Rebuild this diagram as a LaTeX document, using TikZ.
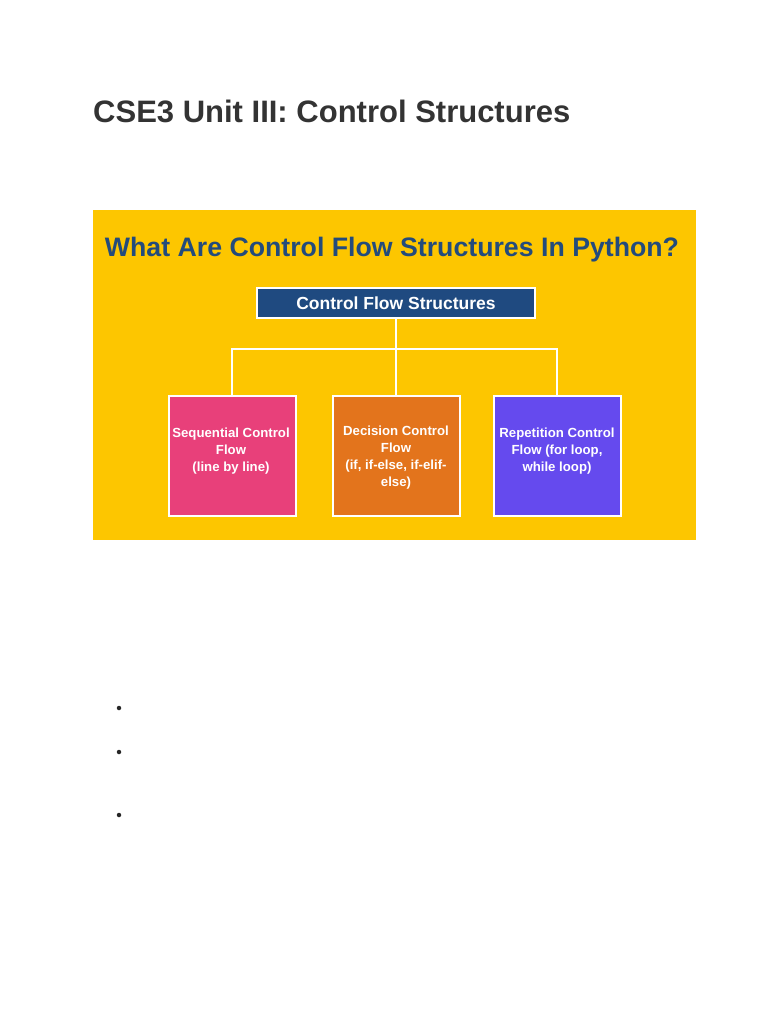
\documentclass[tikz,border=0pt]{standalone}
\usepackage{fontspec}
\setmainfont{Liberation Sans}
\definecolor{titlegray}{HTML}{333333}
\definecolor{bgyellow}{HTML}{FDC600}
\definecolor{headblue}{HTML}{234B7C}
\definecolor{rootblue}{HTML}{1F4A80}
\definecolor{boxpink}{HTML}{E8407A}
\definecolor{boxorange}{HTML}{E3741C}
\definecolor{boxpurple}{HTML}{654AEE}
\begin{document}
\begin{tikzpicture}[x=1pt,y=-1pt,
  childbox/.style={draw=white,line width=2pt,minimum width=127pt,minimum height=120pt,outer sep=0pt,inner sep=0pt},
  boxtext/.style={text=white,font=\fontsize{13.2}{17}\selectfont\bfseries,align=center,inner sep=0pt},
  link/.style={draw=white,line width=2pt},
  bulletdot/.style={circle,fill=black!85,inner sep=0pt,minimum size=4.5pt}]
\useasboundingbox (0,0) rectangle (768,1024);
\fill[white] (0,0) rectangle (768,1024);
\node[anchor=base west,inner sep=0pt,text=titlegray,font=\fontsize{31}{33}\selectfont\bfseries] (title) at (93,123) {CSE3 Unit III: Control Structures};
\fill[bgyellow] (93,210) rectangle (696,540);
\node[anchor=base,inner sep=0pt,text=headblue,font=\fontsize{26.7}{28}\selectfont\bfseries] (head) at (392,256) {What Are Control Flow Structures In Python?};
\node[draw=white,line width=2pt,fill=rootblue,minimum width=278pt,minimum height=30pt,outer sep=0pt,inner sep=0pt,text=white,font=\fontsize{17.5}{19}\selectfont\bfseries] (root) at (396,303) {Control Flow Structures};
\node[childbox,fill=boxpink] (seq) at (232,456) {};
\node[childbox,fill=boxorange] (dec) at (396,456) {};
\node[childbox,fill=boxpurple] (rep) at (557,456) {};
\node[boxtext] (seqt) at (231,451) {Sequential Control\\Flow\\(line by line)};
\node[boxtext] (dect) at (396,458) {Decision Control\\Flow\\(if, if-else, if-elif-\\else)};
\node[boxtext] (rept) at (557,451) {Repetition Control\\Flow (for loop,\\while loop)};
\coordinate (jmid) at (396,349);
\draw[link] (root.south) -- (dec.north);
\draw[link] (seq.north) -- (seq.north |- jmid) -- (rep.north |- jmid) -- (rep.north);
\node[bulletdot] (b1) at (119,708) {};
\node[bulletdot] (b2) at (119,752) {};
\node[bulletdot] (b3) at (119,815) {};
\end{tikzpicture}
\end{document}
